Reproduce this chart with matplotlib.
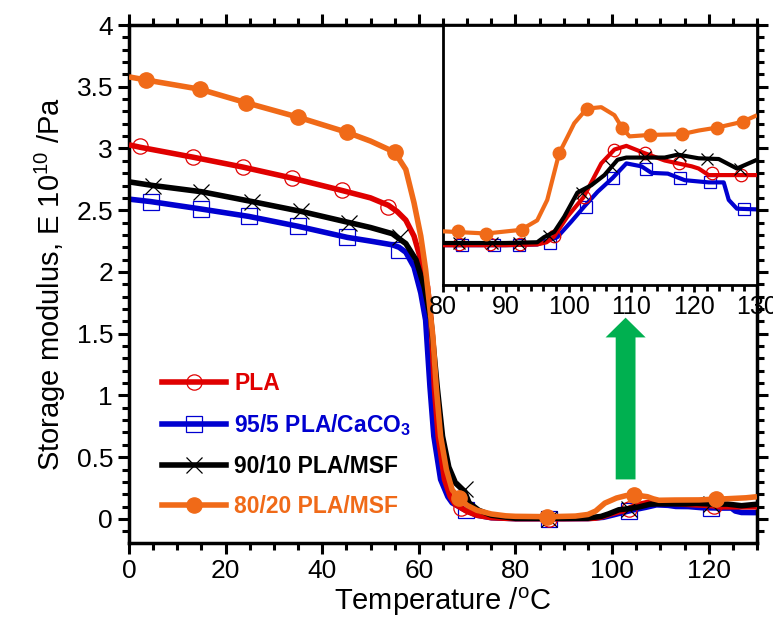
import numpy as np
import matplotlib
matplotlib.use("Agg")
import matplotlib.pyplot as plt
from matplotlib.lines import Line2D
from matplotlib.ticker import MultipleLocator, FormatStrFormatter

plt.rcParams['font.family'] = ['Liberation Sans', 'DejaVu Sans']
plt.rcParams['mathtext.fontset'] = 'custom'
plt.rcParams['mathtext.rm'] = 'Liberation Sans'
plt.rcParams['mathtext.bf'] = 'Liberation Sans:bold'

# ---- data (temperature in C, storage modulus in 1e10 Pa) ----
pla_T = [0, 2.3, 13.2, 23.5, 33.8, 44.1, 50, 53.7, 55.5, 57.3, 59, 60.4, 61.8, 62.5, 63.2, 64,
         65.3, 66.5, 67.5, 68.7, 70, 72, 75, 80, 85, 90, 95, 96.5, 97.7, 99.8, 102.4, 105.2,
         107.3, 109.2, 112.1, 115.3, 117.4, 119.6, 120.7, 122.3, 124.9, 127.5, 130]
pla_E = [3.03, 3.01, 2.93, 2.85, 2.76, 2.66, 2.60, 2.54, 2.49, 2.42, 2.29, 2.10, 1.88, 1.62, 1.07, 0.67,
         0.32, 0.18, 0.12, 0.09, 0.06, 0.03, 0.01, 0.002, 0.002, 0.002, 0.003, 0.006, 0.014, 0.041, 0.068, 0.114,
         0.133, 0.138, 0.128, 0.118, 0.114, 0.110, 0.107, 0.098, 0.098, 0.098, 0.098]

caco3_T = [0, 4.5, 14.9, 24.8, 35, 45.2, 50, 54.5, 55.9, 57.3, 59, 60.4, 61.4, 62.3, 63.1, 64.5,
           66, 66.9, 69.7, 72, 75, 80, 85, 90, 95, 98.2, 100.4, 102.5, 104.6, 107, 109.2, 111.6,
           113.2, 115.8, 118.5, 122.3, 124.7, 125.5, 126.8, 130]
caco3_E = [2.59, 2.57, 2.51, 2.45, 2.37, 2.28, 2.25, 2.22, 2.20, 2.16, 2.04, 1.83, 1.61, 1.07, 0.67, 0.32,
           0.18, 0.13, 0.07, 0.03, 0.01, 0.002, 0.002, 0.002, 0.003, 0.013, 0.034, 0.055, 0.075, 0.094, 0.114, 0.110,
           0.101, 0.100, 0.091, 0.088, 0.088, 0.064, 0.052, 0.051]

msf10_T = [0, 5, 15, 25.5, 35.7, 45.6, 50, 54.5, 57.3, 59.4, 61.1, 62.5, 63.8, 64.9, 66.2, 67.6,
           69.5, 70.4, 72.4, 75, 80, 85, 90, 95, 96.1, 97.7, 99.3, 101.4, 103.6, 105.7, 107.8, 109.2,
           115.3, 117.4, 120.7, 123.9, 126.8, 130]
msf10_E = [2.73, 2.70, 2.65, 2.57, 2.49, 2.40, 2.36, 2.31, 2.23, 2.10, 1.88, 1.61, 1.07, 0.67, 0.42, 0.29,
           0.22, 0.13, 0.07, 0.03, 0.005, 0.005, 0.005, 0.006, 0.013, 0.020, 0.041, 0.074, 0.084, 0.098, 0.119, 0.122,
           0.122, 0.126, 0.121, 0.120, 0.107, 0.119]

msf20_T = [0, 3.5, 14.7, 24.3, 34.9, 45.2, 50, 55, 57.3, 59, 60.4, 61.4, 62.1, 62.9, 63.6, 64.5,
           65.7, 66.9, 68.3, 70, 72, 75, 78, 80, 86.9, 92.4, 95, 96.6, 98.5, 99.8, 100.9, 102.9,
           105.2, 107.3, 108.5, 109.7, 112.9, 118, 120.7, 123.6, 127.7, 130]
msf20_E = [3.58, 3.555, 3.48, 3.37, 3.255, 3.13, 3.06, 2.97, 2.83, 2.56, 2.29, 2.02, 1.77, 1.48, 1.07, 0.67,
           0.40, 0.235, 0.17, 0.11, 0.07, 0.04, 0.025, 0.021, 0.018, 0.023, 0.036, 0.064, 0.128, 0.150, 0.169, 0.189,
           0.191, 0.180, 0.163, 0.151, 0.153, 0.154, 0.159, 0.163, 0.171, 0.180]

# marker positions, main plot
pla_mT = [2.3, 13.2, 23.5, 33.8, 44.1, 53.7, 68.7, 86.9, 103.4, 121]
pla_mE = [3.02, 2.93, 2.85, 2.76, 2.66, 2.53, 0.09, 0.0, 0.08, 0.105]
caco3_mT = [4.5, 14.9, 24.8, 35, 45.2, 55.9, 69.7, 86.9, 103.4, 120.5]
caco3_mE = [2.57, 2.51, 2.45, 2.37, 2.28, 2.18, 0.07, 0.0, 0.067, 0.09]
msf10_mT = [5, 15, 25.5, 35.7, 45.6, 56, 69.5, 86.9, 103.4, 120.5]
msf10_mE = [2.70, 2.65, 2.57, 2.49, 2.40, 2.28, 0.24, 0.0, 0.08, 0.12]
msf20_mT = [3.5, 14.7, 24.3, 34.9, 45.2, 55, 68.3, 86.5, 104.5, 121.5]
msf20_mE = [3.555, 3.48, 3.37, 3.255, 3.13, 2.97, 0.17, 0.016, 0.19, 0.16]

# marker positions, inset
pla_iT = [82.5, 87.5, 92.3, 97.7, 102.4, 107.3, 112.1, 117.5, 122.9, 127.5]
pla_iE = [0.003, 0.003, 0.003, 0.015, 0.068, 0.133, 0.128, 0.114, 0.101, 0.098]
caco3_iT = [83, 88.1, 92.1, 97.1, 102.8, 107, 112.4, 117.7, 122.5, 127.9]
caco3_iE = [0.002, 0.002, 0.002, 0.005, 0.054, 0.094, 0.107, 0.094, 0.088, 0.051]
msf10_iT = [82.5, 87.8, 92.1, 96.9, 102.2, 106.8, 112.1, 117.7, 122, 127.3]
msf10_iE = [0.005, 0.005, 0.005, 0.014, 0.073, 0.110, 0.123, 0.126, 0.120, 0.107]
msf20_iT = [82.4, 86.9, 92.5, 98.4, 102.9, 108.5, 112.9, 118, 123.6, 127.8]
msf20_iE = [0.021, 0.018, 0.023, 0.128, 0.189, 0.163, 0.153, 0.154, 0.163, 0.171]

labels = ["PLA", r"95/5 PLA/CaCO$_\mathbf{3}$", "90/10 PLA/MSF", "80/20 PLA/MSF"]
colors = ["#e00000", "#0000d0", "#000000", "#f06a18"]
markers = ["o", "s", "x", "o"]
filled = [False, False, False, True]

series = [
    (pla_T, pla_E, pla_mT, pla_mE, pla_iT, pla_iE),
    (caco3_T, caco3_E, caco3_mT, caco3_mE, caco3_iT, caco3_iE),
    (msf10_T, msf10_E, msf10_mT, msf10_mE, msf10_iT, msf10_iE),
    (msf20_T, msf20_E, msf20_mT, msf20_mE, msf20_iT, msf20_iE),
]
zorders = [3, 2, 4, 5]

fig = plt.figure(figsize=(7.73, 6.24), dpi=100)
ax = fig.add_axes([0.1669, 0.1298, 0.8124, 0.8301])


def draw(a, lw, ms, use_inset):
    for (T, E, mT, mE, iT, iE), c, m, f, z in zip(series, colors, markers, filled, zorders):
        a.plot(T, E, color=c, lw=lw, zorder=z, solid_capstyle='butt')
        xs, ys = (iT, iE) if use_inset else (mT, mE)
        if f:
            a.plot(xs, ys, ls='none', marker=m, ms=ms, color=c, zorder=z + 0.5)
        else:
            a.plot(xs, ys, ls='none', marker=m, ms=ms, mfc='none', mec=c,
                   mew=0.9, zorder=z + 0.5)


draw(ax, 4.0, 11, False)

ax.set_xlim(0, 130)
ax.set_ylim(-0.195, 4)
ax.xaxis.set_major_locator(MultipleLocator(20))
ax.xaxis.set_minor_locator(MultipleLocator(5))
ax.yaxis.set_major_locator(MultipleLocator(0.5))
ax.yaxis.set_minor_locator(MultipleLocator(0.1))
ax.yaxis.set_major_formatter(FormatStrFormatter('%g'))
ax.tick_params(which='both', direction='out', top=True, right=True, width=2.2, labelsize=19)
ax.tick_params(which='major', length=8)
ax.tick_params(which='minor', length=5)
for s in ax.spines.values():
    s.set_linewidth(2.5)

ax.set_xlabel(r"Temperature /$^{\rm o}$C", fontsize=21, labelpad=2)
ax.set_ylabel(r"Storage modulus, E 10$^{10}$ /Pa", fontsize=21, labelpad=6)

# green arrow
ax.arrow(102.8, 0.32, 0, 1.31, width=4.1, head_width=8.3, head_length=0.16,
         length_includes_head=True, color="#00b050", ec='none', zorder=6)

handles = []
for c, m, f in zip(colors, markers, filled):
    handles.append(Line2D([], [], color=c, lw=4, marker=m, ms=11,
                          mfc=c if f else 'none', mec=c, mew=0.9))
leg = ax.legend(handles, labels, loc='lower left', bbox_to_anchor=(0.02, 0.008),
                frameon=False, handlelength=2.8, handletextpad=0.35, labelspacing=0.75,
                prop={'weight': 'bold', 'size': 16.5}, labelcolor='linecolor')

# inset
axi = fig.add_axes([0.5731, 0.5433, 0.4062, 0.4167])
draw(axi, 3.0, 9, True)
axi.set_xlim(80, 130)
axi.set_ylim(-0.0525, 0.3036)
axi.xaxis.set_major_locator(MultipleLocator(10))
axi.xaxis.set_minor_locator(MultipleLocator(2))
axi.set_yticks([])
axi.tick_params(axis='x', which='both', direction='out', width=2.0, labelsize=18, pad=2)
axi.tick_params(axis='x', which='major', length=5)
axi.tick_params(axis='x', which='minor', length=4)
for s in axi.spines.values():
    s.set_linewidth(2.0)

fig.savefig("out.png", dpi=100)
